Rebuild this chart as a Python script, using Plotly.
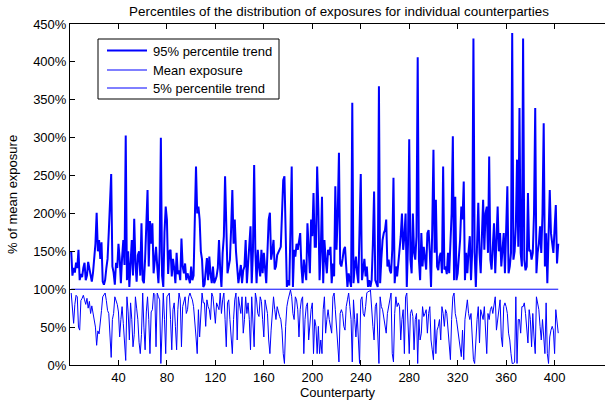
import plotly.graph_objects as go

# ---------------- data ----------------
p95 = [
150,118,128,122,135,128,152,112,120,116,
128,135,112,118,136,126,114,110,122,140,
160,201,150,165,140,162,110,106,112,128,
140,175,210,252,130,122,106,135,128,160,
140,108,142,165,132,303,112,150,103,130,
165,118,193,135,110,145,150,118,187,112,
108,140,175,231,130,190,160,187,121,140,
156,130,108,150,300,118,103,175,209,192,
120,150,152,117,140,128,108,148,120,125,
112,167,130,121,134,112,121,115,108,130,
112,118,180,262,200,209,192,150,139,103,
106,130,141,112,143,120,108,130,108,112,
117,128,165,125,103,148,170,249,200,121,
130,139,180,231,160,192,150,130,108,120,
132,108,125,130,165,108,139,160,183,108,
150,264,150,108,152,130,117,152,121,148,
130,108,150,192,201,139,150,165,126,130,
145,148,152,156,200,244,249,150,103,112,
105,180,262,103,152,143,160,152,165,174,
130,108,139,125,112,187,140,121,192,170,
227,156,156,262,205,112,150,222,108,165,
140,121,152,145,156,108,134,117,236,152,
200,280,134,130,140,152,156,125,103,121,
112,103,346,108,130,143,121,108,180,252,
112,130,140,117,130,103,112,103,112,160,
229,112,108,103,368,108,140,165,174,178,
192,130,139,125,121,152,247,108,130,117,
134,148,170,200,152,170,200,103,160,298,
139,121,200,148,139,170,406,139,112,174,
130,156,140,126,174,178,148,103,180,284,
148,218,130,125,143,148,121,262,126,130,
120,148,121,156,200,302,112,222,112,121,
139,165,209,192,242,112,148,121,150,170,
112,150,431,148,103,160,214,148,121,170,
218,152,200,209,148,275,139,126,150,187,
121,183,209,150,174,130,150,174,121,174,
236,121,130,148,438,139,150,183,271,156,
339,148,130,431,139,125,130,227,150,152,
139,148,200,339,121,148,160,183,148,200,
319,130,174,108,160,231,174,161,148,180,
211,134,160,
]

p5 = [
95,72,55,80,92,90,50,46,85,88,
92,86,80,88,75,84,68,78,70,60,
50,26,45,41,63,72,90,92,95,85,
72,68,40,10,60,68,90,86,80,70,
37,60,77,55,30,6,90,70,33,82,
60,24,40,90,75,60,30,15,40,95,
50,20,70,90,60,15,70,73,95,93,
24,95,90,86,2,60,95,60,15,90,
92,95,60,20,73,82,51,20,73,95,
86,24,77,86,90,68,73,90,95,90,
86,77,60,37,15,73,37,68,95,82,
82,51,86,77,73,60,95,90,68,55,
82,77,73,95,68,86,95,60,24,82,
86,60,33,15,60,86,95,33,90,77,
68,90,42,60,90,68,82,60,20,90,
60,24,95,86,68,64,90,84,60,37,
86,77,68,33,15,46,77,90,73,60,
77,68,64,60,46,15,2,51,77,86,
95,99,90,68,60,90,86,73,37,73,
86,90,15,60,77,82,33,60,73,82,
15,60,51,15,51,15,33,15,73,90,
42,60,73,60,51,42,90,95,73,46,
24,4,68,73,68,51,46,77,86,95,
77,60,4,86,60,37,68,33,2,86,
90,68,64,77,95,97,97,99,68,51,
33,77,82,37,2,90,77,73,60,51,
42,68,77,86,95,15,4,68,90,77,
82,77,33,60,73,15,90,95,46,15,
68,73,64,20,60,68,2,60,33,42,
77,64,68,73,42,68,77,33,20,7,
60,15,46,51,60,33,77,68,51,73,
68,46,20,7,60,90,95,68,60,46,
37,24,11,46,7,60,73,86,68,60,
68,33,7,2,37,60,77,29,73,68,
60,77,37,15,68,60,73,77,68,82,
90,46,60,77,86,37,24,77,82,77,
68,42,33,15,2,2,4,90,2,60,
60,42,77,77,82,68,51,29,73,60,
24,68,37,15,90,82,73,51,33,60,
37,15,82,15,2,37,46,51,46,15,
73,51,42,
]

counterparty = list(range(1, len(p95) + 1))
mean_exposure = [100] * len(p95)   # every counterparty is normalised to 100 % of its mean

x_ticks = [40, 80, 120, 160, 200, 240, 280, 320, 360, 400]
y_ticks = [0, 50, 100, 150, 200, 250, 300, 350, 400, 450]
y_tick_labels = ["0%", "50%", "100%", "150%", "200%", "250%", "300%", "350%", "400%", "450%"]

series_names = ["95% percentile trend", "Mean exposure", "5% percentile trend"]
title_text = "Percentiles of the distribution of exposures for individual counterparties"
x_label = "Counterparty"
y_label = "% of mean exposure"

# ---------------- figure ----------------
FONT = "Liberation Sans, Arial, Helvetica, sans-serif"
FS = 13
BLUE = "#0000ff"
W, H = 605, 404
ML, MR, MT, MB = 70, 0, 24, 39
PW, PH = W - ML - MR, H - MT - MB
widths = [2, 1, 1]

def px(xp):  # pixel -> paper x
    return (xp - ML) / PW

def py(yp):  # pixel -> paper y
    return (H - MB - yp) / PH

fig = go.Figure()
for name, ys, w in zip(series_names, [p95, mean_exposure, p5], widths):
    fig.add_trace(go.Scatter(x=counterparty, y=ys, mode="lines", name=name,
                             line=dict(color=BLUE, width=w), showlegend=False))

# legend box drawn like the MATLAB one (sample lines + real text)
shapes = [dict(type="rect", xref="paper", yref="paper",
               x0=px(98), x1=px(279), y0=py(99), y1=py(39),
               line=dict(color="black", width=1), fillcolor="white", layer="above")]
annotations = []
rows = [50.5, 70, 88]
for name, w, r in zip(series_names, widths, rows):
    shapes.append(dict(type="line", xref="paper", yref="paper",
                       x0=px(107), x1=px(147), y0=py(r), y1=py(r),
                       line=dict(color=BLUE, width=w), layer="above"))
    annotations.append(dict(text=name, xref="paper", yref="paper",
                            x=px(151), y=py(r + 0.5), xanchor="left", yanchor="middle",
                            showarrow=False, font=dict(family=FONT, size=FS, color="black")))

fig.update_layout(
    width=W, height=H,
    margin=dict(l=ML, r=MR, t=MT, b=MB),
    paper_bgcolor="white", plot_bgcolor="white",
    font=dict(family=FONT, size=FS, color="black"),
    title=dict(text=title_text, x=339 / W, xanchor="center",
               y=1 - 11 / H, yanchor="middle",
               font=dict(family=FONT, size=13.4, color="black")),
    showlegend=False,
    shapes=shapes, annotations=annotations,
)

fig.update_xaxes(range=[0, 441.6], tickvals=x_ticks,
                 showline=True, linecolor="black", linewidth=1, mirror="ticks",
                 ticks="inside", ticklen=5, tickcolor="black",
                 showgrid=False, zeroline=False,
                 tickfont=dict(family=FONT, size=FS),
                 title=dict(text=x_label, standoff=3,
                            font=dict(family=FONT, size=FS)))
fig.update_yaxes(range=[0, 450], tickvals=y_ticks, ticktext=y_tick_labels,
                 showline=True, linecolor="black", linewidth=1, mirror=False,
                 ticks="inside", ticklen=5, tickcolor="black",
                 showgrid=False, zeroline=False,
                 tickfont=dict(family=FONT, size=FS),
                 title=dict(text=y_label, standoff=12,
                            font=dict(family=FONT, size=FS)))

fig.write_html("out.html")
